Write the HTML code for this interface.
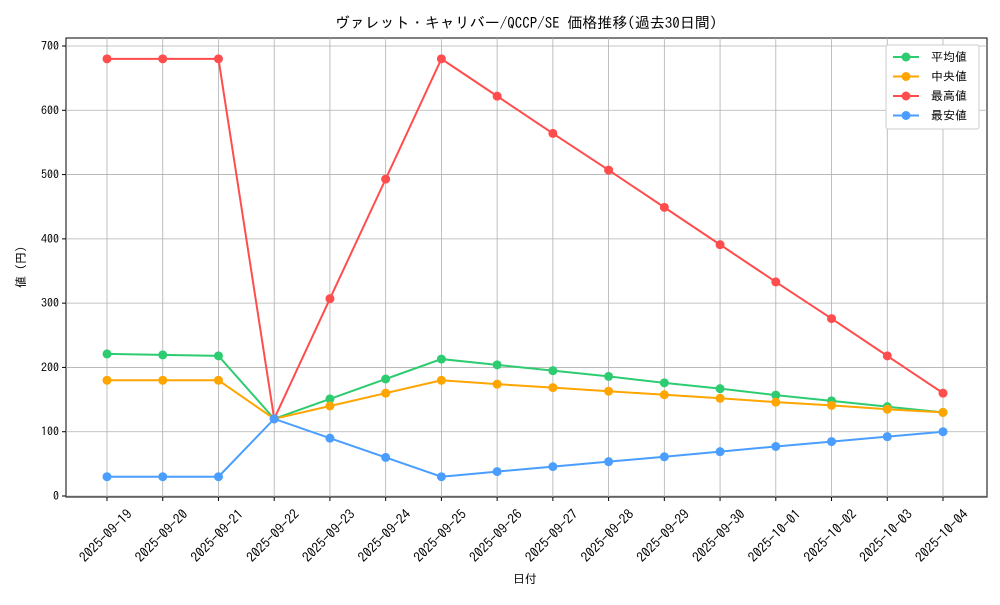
<!DOCTYPE html>
<html><head><meta charset="utf-8"><style>
body{margin:0;background:#fff}
svg text{font-family:"IPAGothic","Liberation Mono","Noto Sans CJK JP",monospace;fill:#000}
</style></head><body>
<svg id="c" width="1000" height="600" xmlns="http://www.w3.org/2000/svg"></svg>
<script>
const s=document.getElementById('c');let h='';
const L=66,R=987,T=38,B=497;
const X=i=>107+i*(943-107)/15, Y=v=>496-v*(450/700);
const dates=['2025-09-19','2025-09-20','2025-09-21','2025-09-22','2025-09-23','2025-09-24','2025-09-25','2025-09-26','2025-09-27','2025-09-28','2025-09-29','2025-09-30','2025-10-01','2025-10-02','2025-10-03','2025-10-04'];
h+=`<rect x="${L}" y="${T}" width="${R-L}" height="${B-T}" fill="#fff" stroke="#000" stroke-width="1"/>`;
for(let v=0;v<=700;v+=100){const y=Y(v);h+=`<line x1="${L}" x2="${R}" y1="${y}" y2="${y}" stroke="#b0b0b0" stroke-width="0.8"/><line x1="${L-4}" x2="${L}" y1="${y}" y2="${y}" stroke="#000"/><text x="${L-7}" y="${y+4}" font-size="12" text-anchor="end">${v}</text>`;}
dates.forEach((d,i)=>{const x=X(i);h+=`<line x1="${x}" x2="${x}" y1="${T}" y2="${B}" stroke="#b0b0b0" stroke-width="0.8"/><line x1="${x}" x2="${x}" y1="${B}" y2="${B+4}" stroke="#000"/><text transform="translate(${x+2},${B+42}) rotate(-45)" font-size="13.5" text-anchor="middle">${d}</text>`;});
const S=[
['#2ecc71',[221,219.5,218,120,151,182,213,204,195,186,176,167,157,148,139,130]],
['#ffa500',[180,180,180,120,140,160,180,174,168.6,163,157.5,152,146,141,135,130]],
['#ff4d4d',[680,680,680,120,307,493,680,622,564,507,449,391,333,276,218,160]],
['#4a9eff',[30,30,30,120,90,60,30,38,45.7,53.4,61,69,77,84.6,92.3,100]]];
S.forEach(([c,d])=>{h+=`<polyline fill="none" stroke="${c}" stroke-width="2" points="${d.map((v,i)=>X(i)+','+Y(v)).join(' ')}"/>`;d.forEach((v,i)=>h+=`<circle cx="${X(i)}" cy="${Y(v)}" r="4.5" fill="${c}"/>`);});
h+=`<text x="526" y="28" font-size="15" text-anchor="middle">ヴァレット・キャリバー/QCCP/SE 価格推移(過去30日間)</text>`;
h+=`<text x="525" y="583" font-size="12" text-anchor="middle">日付</text>`;
h+=`<text transform="translate(25,267) rotate(-90)" font-size="12" text-anchor="middle">値 (円)</text>`;
h+=`<rect x="886" y="45" width="93" height="84" fill="#fff" stroke="#ccc" rx="2"/>`;
['平均値','中央値','最高値','最安値'].forEach((t,i)=>{const y=57+i*19.5,c=S[i][0];h+=`<line x1="893" x2="919" y1="${y}" y2="${y}" stroke="${c}" stroke-width="2"/><circle cx="906" cy="${y}" r="4.5" fill="${c}"/><text x="931" y="${y+4}" font-size="12">${t}</text>`;});
s.innerHTML=h;
</script>
</body></html>
